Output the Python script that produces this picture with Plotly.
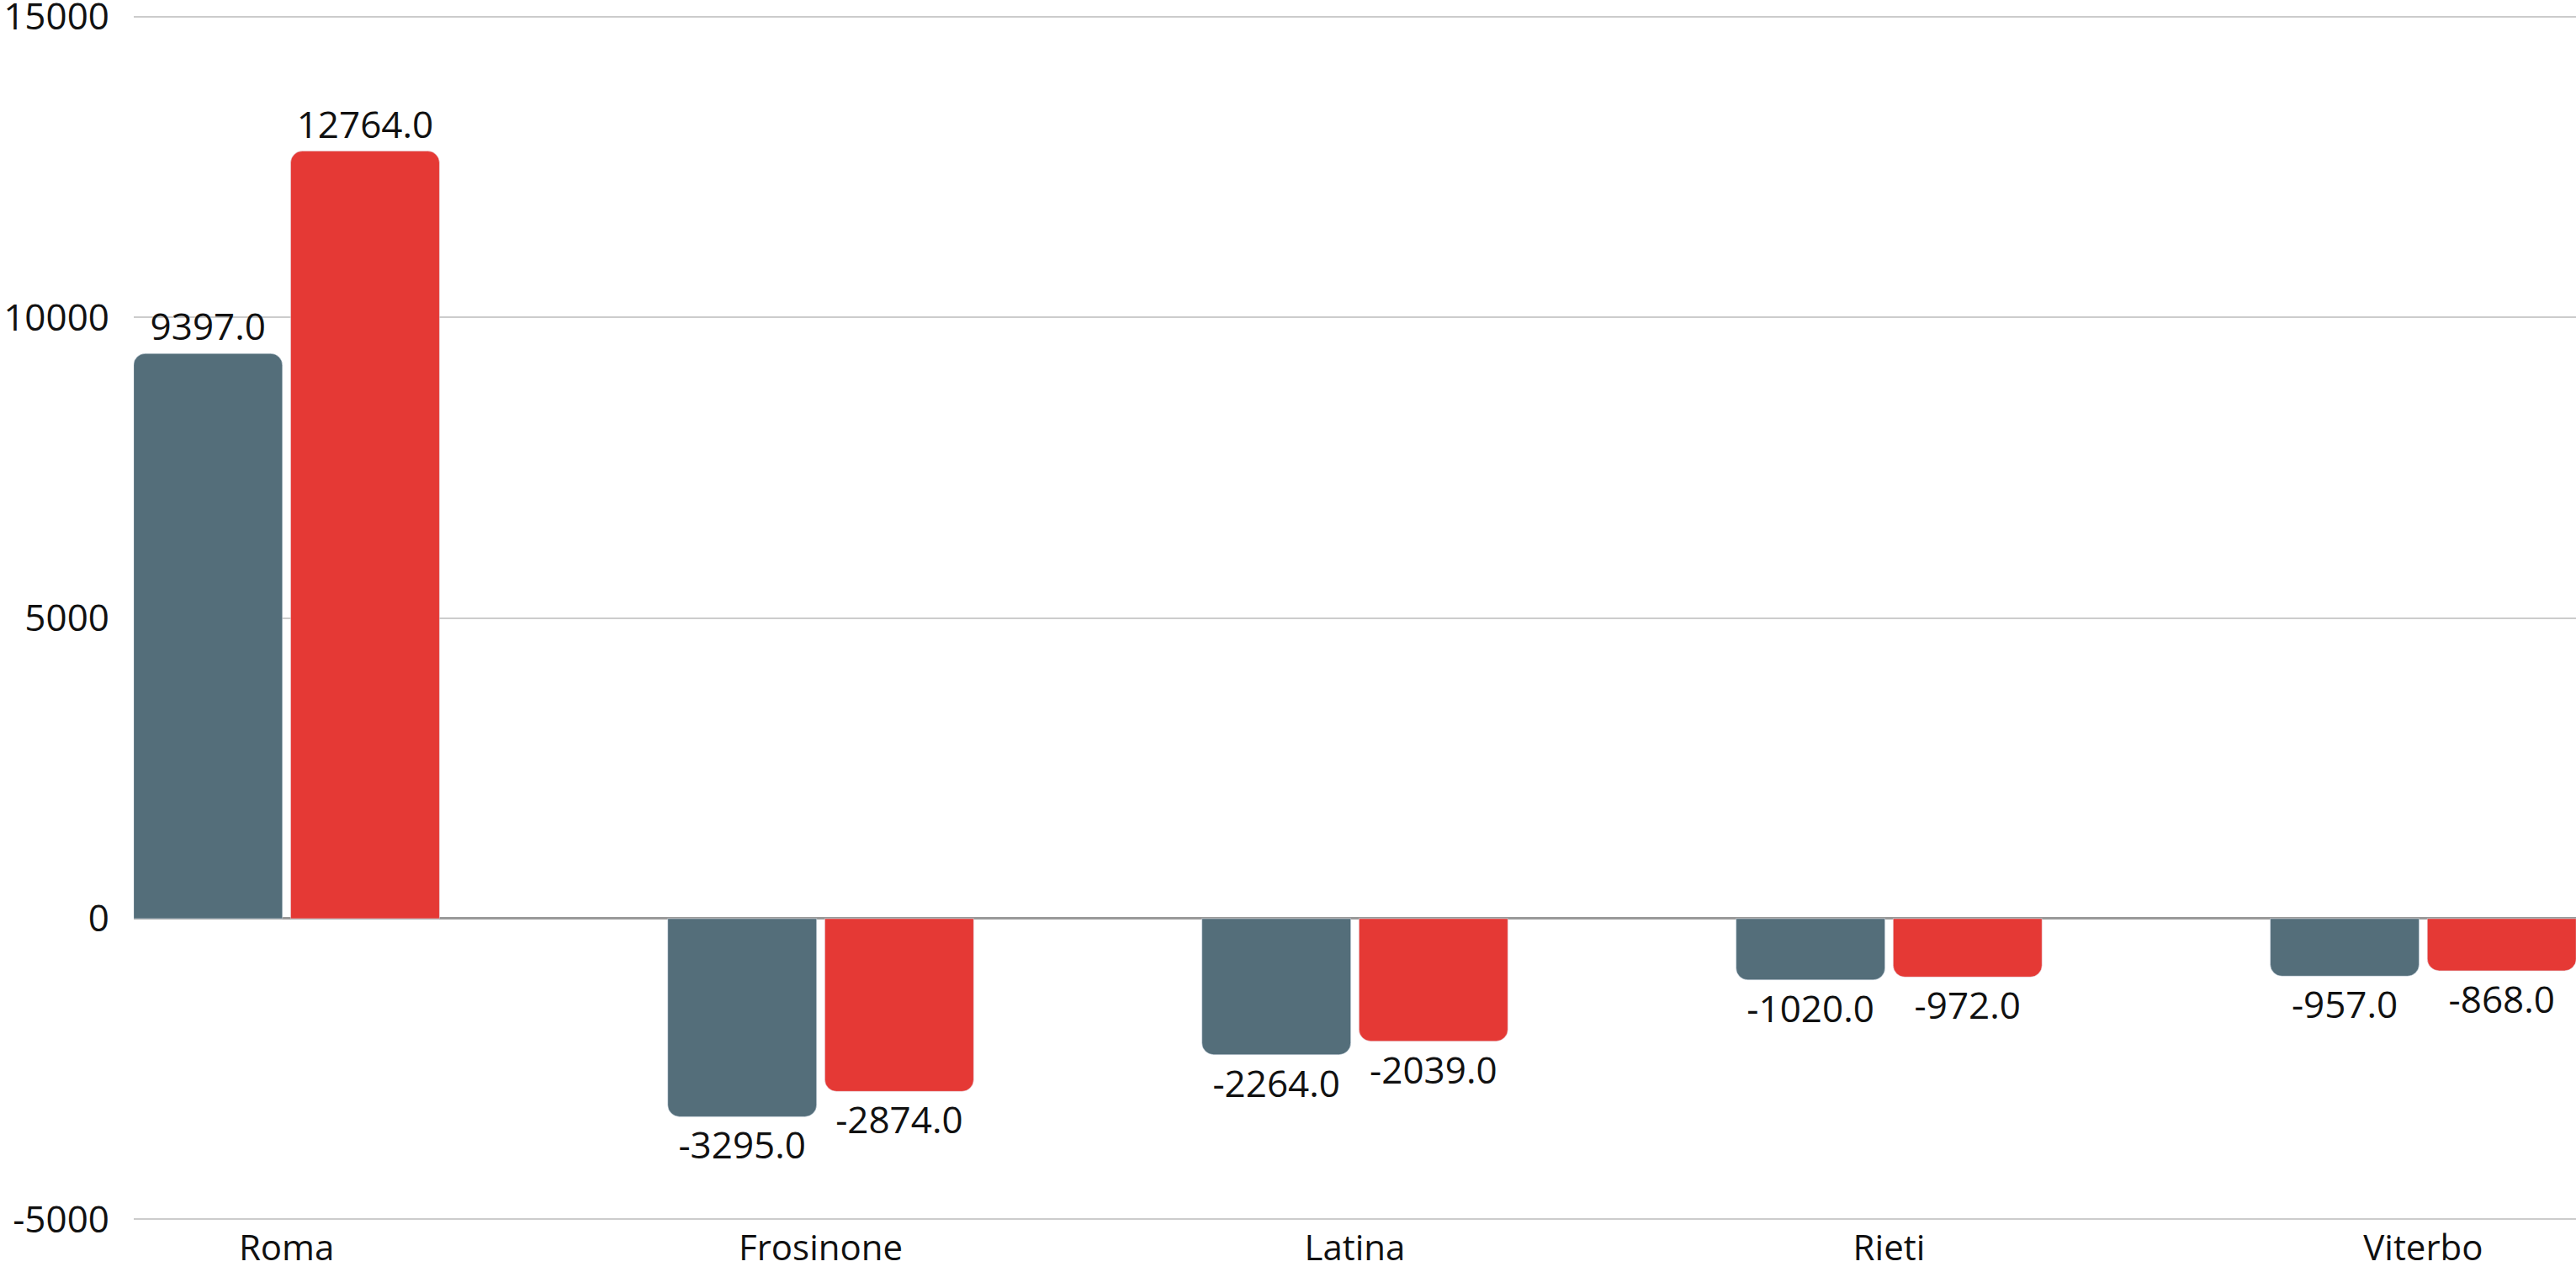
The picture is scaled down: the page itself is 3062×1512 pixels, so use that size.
import plotly.graph_objects as go

categories = ["Roma", "Frosinone", "Latina", "Rieti", "Viterbo"]
series_a = [9397.0, -3295.0, -2264.0, -1020.0, -957.0]
series_b = [12764.0, -2874.0, -2039.0, -972.0, -868.0]
y_ticks = [-5000, 0, 5000, 10000, 15000]

color_a = "#546E7A"
color_b = "#E53935"
font_family = "Open Sans, DejaVu Sans, sans-serif"
fs = 44

fig = go.Figure()
for vals, col in [(series_a, color_a), (series_b, color_b)]:
    fig.add_trace(go.Bar(
        x=categories, y=vals, marker_color=col,
        text=[f"{v:.1f}" for v in vals], textposition="outside",
        textfont=dict(size=fs, color="#111111", family=font_family),
        cliponaxis=False, showlegend=False,
    ))

fig.update_layout(
    width=3062, height=1512,
    barmode="group", bargap=0.412, bargroupgap=0.052,
    barcornerradius=14,
    plot_bgcolor="white", paper_bgcolor="white",
    margin=dict(l=159, r=0, t=14, b=57, autoexpand=False),
    font=dict(family=font_family, size=fs, color="#111111"),
    uniformtext=dict(minsize=fs, mode="show"),
)
fig.update_xaxes(
    range=[-0.286, 4.286], showgrid=False, showline=False,
    ticks="", tickfont=dict(size=42), ticklabelstandoff=0,
    ticklabeloverflow="allow", automargin=False,
)
fig.update_yaxes(
    range=[-5080, 15080], tickvals=y_ticks, ticktext=[str(t) for t in y_ticks],
    showgrid=True, gridcolor="#cccccc", gridwidth=2,
    zeroline=True, zerolinecolor="#999999", zerolinewidth=3,
    ticks="", ticklabelstandoff=28, tickfont=dict(size=fs),
    ticklabeloverflow="allow", automargin=False,
)

fig.write_html(
    "out.html",
    config={"displayModeBar": False},
    post_script="document.body.style.margin='0';document.body.style.overflow='hidden';",
)
